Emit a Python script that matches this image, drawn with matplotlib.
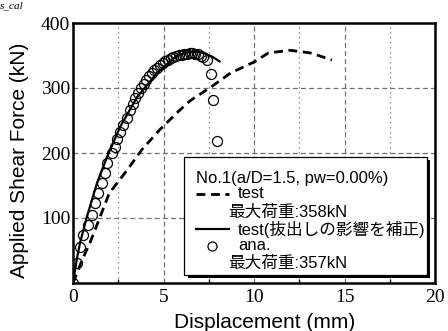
import matplotlib
matplotlib.use("Agg")
import matplotlib.pyplot as plt
from matplotlib.lines import Line2D
from matplotlib.patches import Rectangle
import numpy as np

# ---- data ----
test_x = [0, 0.5, 0.94, 1.5, 2.0, 3.0, 3.8, 4.8, 5.9, 6.5, 7.6, 8.7, 10.0, 10.8, 12.0, 13.1, 14.0, 14.3]
test_y = [0, 35, 62, 102, 138, 174, 205, 236, 266, 281, 301, 323, 340, 354, 358, 354, 346, 343]

corr_x = [0, 0.2, 0.39, 0.77, 1.33, 1.88, 2.6, 3.54, 4.64, 5.75, 6.3, 6.85, 7.3, 7.7, 8.1]
corr_y = [0, 35, 62, 102, 154, 194, 240, 286, 323, 350, 355, 356, 353, 348, 341]

ana_x = [0, 0.2, 0.39, 0.55, 0.83, 1.05, 1.2, 1.4, 1.6, 1.77, 1.9, 2.15, 2.3, 2.45, 2.6,
         2.78, 2.98, 3.15, 3.3, 3.45, 3.6, 3.75, 3.9, 4.05, 4.2, 4.35, 4.5, 4.65, 4.8,
         4.95, 5.1, 5.25, 5.4, 5.55, 5.7, 5.85, 6.0, 6.15, 6.3, 6.45, 6.6, 6.75, 6.9,
         7.05, 7.2, 7.4, 7.6, 7.75, 7.95]
ana_y = [0, 31, 56, 74, 89, 105, 123, 138, 154, 169, 185, 200, 210, 222, 232,
         243, 254, 266, 276, 285, 293, 300, 306, 312, 318, 323, 327, 331, 335,
         338, 341, 343.5, 345.5, 347.5, 349, 350.5, 351.5, 352.5, 353, 353.5, 353.5, 353, 352,
         350, 348, 343, 322, 281, 218]

x_ticks = [0, 5, 10, 15, 20]
y_ticks = [100, 200, 300, 400]
x_minor = [2.5, 7.5, 12.5, 17.5]

legend_title = "No.1(a/D=1.5, pw=0.00%)"
legend_lines = ["test", "最大荷重:358kN", "test(抜出しの影響を補正)", "ana.", "最大荷重:357kN"]

# ---- figure ----
fig = plt.figure(figsize=(4.48, 3.31), dpi=100)
ax = fig.add_axes([73/448, 48/331, 362/448, 260/331])

serif = ["Liberation Serif", "DejaVu Serif"]
sans = ["Liberation Sans", "Noto Sans CJK JP", "DejaVu Sans"]

ax.plot(test_x, test_y, color="black", lw=2.0, ls=(0, (3.2, 2.0)), zorder=3)
ax.plot(ana_x, ana_y, ls="none", marker="o", ms=7.2, mfc="none", mec="black", mew=0.9, zorder=4)
ax.plot(corr_x, corr_y, color="black", lw=1.6, ls="-", zorder=5)

ax.set_xlim(0, 20)
ax.set_ylim(0, 400)
ax.set_xticks(x_ticks)
ax.set_yticks(y_ticks)
ax.set_xticks(x_minor, minor=True)
ax.tick_params(axis="both", which="both", direction="in", length=3, width=1, pad=4)
ax.tick_params(axis="both", which="major", length=0)
ax.tick_params(axis="y", which="major", pad=2)
for lab in ax.get_xticklabels() + ax.get_yticklabels():
    lab.set_fontfamily(serif)
    lab.set_fontsize(14)

ax.grid(True, which="major", axis="both", color="#707070", ls=(0, (4, 2.5)), lw=0.9)
ax.grid(True, which="minor", axis="x", color="#707070", ls=(0, (1, 3)), lw=0.9)
ax.set_axisbelow(True)
for s in ax.spines.values():
    s.set_linewidth(1.8)
    s.set_zorder(6)

ax.set_xlabel("Displacement (mm)", family=sans, fontsize=15)
ax.set_ylabel("Applied Shear Force (kN)", family=sans, fontsize=15)
ax.xaxis.set_label_coords(0.53, -0.115)
ax.yaxis.set_label_coords(-0.122, 0.47)

# top text fragment
fig.text(0.0, 0.997, "s_cal", family=serif, style="italic", fontsize=8, va="top", ha="left")

# ---- legend (manual, drawn in figure pixel fractions) ----
def fx(px):
    return px / 448
def fy(py):
    return 1 - py / 331

# shadow
fig.patches.append(Rectangle((fx(188), fy(278)), fx(427) - fx(185), fy(157) - fy(275),
                             transform=fig.transFigure, facecolor="black", edgecolor="none", zorder=7))
fig.patches.append(Rectangle((fx(184), fy(275)), fx(427) - fx(184), fy(157) - fy(275),
                             transform=fig.transFigure, facecolor="white", edgecolor="black", lw=0.9, zorder=8))

fs = 12
fig.text(fx(196), fy(178), legend_title, family=sans, fontsize=fs, va="center", ha="left", zorder=9)
fig.lines.append(Line2D([fx(196), fx(229)], [fy(194), fy(194)], transform=fig.transFigure,
                        color="black", lw=2.0, ls=(0, (3.2, 2.0)), zorder=9))
fig.text(fx(238), fy(194), legend_lines[0], family=sans, fontsize=fs, va="center", ha="left", zorder=9)
fig.text(fx(228), fy(212), legend_lines[1], family=sans, fontsize=fs, va="center", ha="left", zorder=9)
fig.lines.append(Line2D([fx(196), fx(229)], [fy(229), fy(229)], transform=fig.transFigure,
                        color="black", lw=1.6, zorder=9))
fig.text(fx(238), fy(229), legend_lines[2], family=sans, fontsize=fs, va="center", ha="left", zorder=9)
fig.lines.append(Line2D([fx(212)], [fy(246)], transform=fig.transFigure, ls="none", marker="o",
                        ms=6.5, mfc="white", mec="black", mew=0.9, zorder=9))
fig.text(fx(238), fy(246), legend_lines[3], family=sans, fontsize=fs, va="center", ha="left", zorder=9)
fig.text(fx(228), fy(263), legend_lines[4], family=sans, fontsize=fs, va="center", ha="left", zorder=9)

fig.savefig("out.png", dpi=100)
